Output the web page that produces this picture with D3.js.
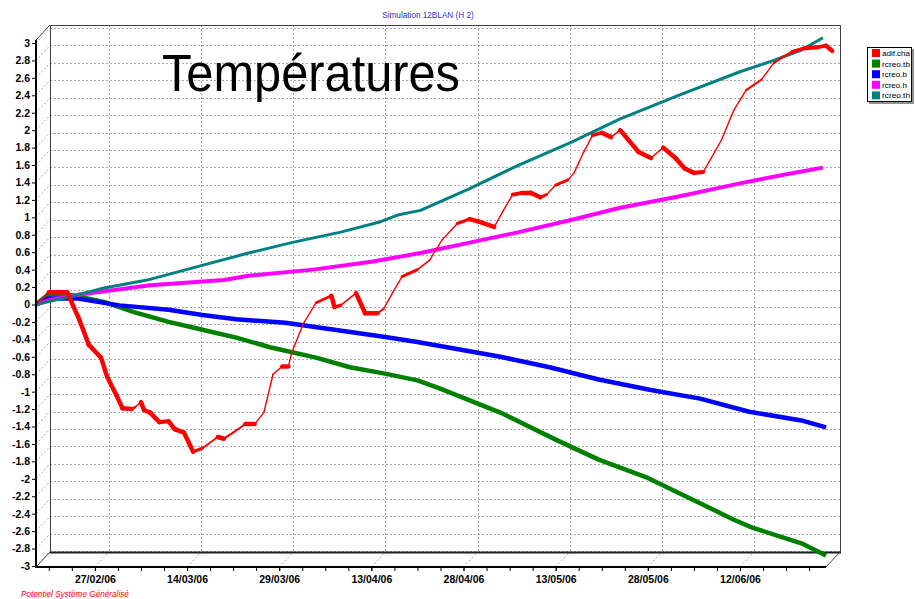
<!DOCTYPE html>
<html>
<head>
<meta charset="utf-8">
<script src="https://cdn.jsdelivr.net/npm/d3@7"></script>
<style>
  body { margin: 0; background: #fff; }
  svg { display: block; font-family: Arial, "Liberation Sans", sans-serif; }
</style>
</head>
<body>
<svg id="chart" width="915" height="599"></svg>
<script>
// DATA
const chartTitle = "Simulation 12BLAN (H 2)";
const bigLabel = "Températures";
const footer = "Potentiel Système Généralisé";

const seriesNames = ["adif.cha", "rcreo.tb", "rcreo.b", "rcreo.h", "rcreo.th"];
const seriesColors = ["#ff0000", "#008000", "#0000ff", "#ff00ff", "#008080"];

const dateTicks = ["2006-02-27", "2006-03-14", "2006-03-29", "2006-04-13",
                   "2006-04-28", "2006-05-13", "2006-05-28", "2006-06-12"];
const yTicks = [-3, -2.8, -2.6, -2.4, -2.2, -2, -1.8, -1.6, -1.4, -1.2, -1, -0.8, -0.6, -0.4, -0.2,
                0, 0.2, 0.4, 0.6, 0.8, 1, 1.2, 1.4, 1.6, 1.8, 2, 2.2, 2.4, 2.6, 2.8, 3];

// adif.cha (red)
const adifCha = [
  ["2006-02-17 10", 0], ["2006-02-19 12", 0.14], ["2006-02-22 12", 0.14], ["2006-02-24 12", -0.18],
  ["2006-02-26 00", -0.46], ["2006-02-28 00", -0.61], ["2006-03-01 00", -0.83], ["2006-03-02 12", -1.04],
  ["2006-03-03 12", -1.19], ["2006-03-05 00", -1.20], ["2006-03-05 12", -1.18], ["2006-03-06 12", -1.12],
  ["2006-03-07 00", -1.21], ["2006-03-08 00", -1.24], ["2006-03-09 12", -1.35], ["2006-03-11 00", -1.34],
  ["2006-03-12 00", -1.43], ["2006-03-13 12", -1.47], ["2006-03-15 00", -1.69], ["2006-03-16 12", -1.65],
  ["2006-03-19 00", -1.52], ["2006-03-20 00", -1.54], ["2006-03-21 12", -1.47], ["2006-03-23 12", -1.37],
  ["2006-03-25 00", -1.37], ["2006-03-26 12", -1.24], ["2006-03-28 00", -0.80], ["2006-03-29 12", -0.71],
  ["2006-03-30 12", -0.71], ["2006-03-31 00", -0.56], ["2006-04-02 00", -0.21], ["2006-04-04 00", 0.02],
  ["2006-04-06 12", 0.10], ["2006-04-07 00", -0.03], ["2006-04-08 00", -0.01], ["2006-04-10 12", 0.13],
  ["2006-04-12 00", -0.10], ["2006-04-14 00", -0.10], ["2006-04-15 00", -0.05], ["2006-04-16 12", 0.14],
  ["2006-04-18 00", 0.32], ["2006-04-20 12", 0.40], ["2006-04-22 12", 0.51], ["2006-04-24 12", 0.74],
  ["2006-04-27 00", 0.93], ["2006-04-29 00", 0.98], ["2006-04-30 12", 0.95], ["2006-05-03 00", 0.89],
  ["2006-05-04 12", 1.08], ["2006-05-06 00", 1.26], ["2006-05-07 12", 1.28], ["2006-05-09 00", 1.28],
  ["2006-05-10 12", 1.23], ["2006-05-11 12", 1.26], ["2006-05-13 00", 1.37], ["2006-05-15 00", 1.43],
  ["2006-05-16 00", 1.51], ["2006-05-17 12", 1.74], ["2006-05-19 00", 1.94], ["2006-05-20 12", 1.97],
  ["2006-05-22 00", 1.92], ["2006-05-23 12", 2.00], ["2006-05-26 12", 1.75], ["2006-05-28 12", 1.68],
  ["2006-05-30 12", 1.80], ["2006-06-01 12", 1.68], ["2006-06-03 00", 1.56], ["2006-06-04 12", 1.51],
  ["2006-06-06 00", 1.52], ["2006-06-07 00", 1.64], ["2006-06-09 00", 1.89], ["2006-06-11 00", 2.23],
  ["2006-06-13 00", 2.46], ["2006-06-15 12", 2.58], ["2006-06-17 12", 2.77], ["2006-06-19 00", 2.84],
  ["2006-06-20 12", 2.90], ["2006-06-22 12", 2.94], ["2006-06-24 12", 2.95], ["2006-06-26 00", 2.97],
  ["2006-06-27 00", 2.91]
];

// rcreo.tb (green)
const rcreoTb = [
  ["2006-02-17 10", 0], ["2006-02-19 12", 0.12], ["2006-02-23 00", 0.11], ["2006-02-28 12", 0.03],
  ["2006-03-05 12", -0.09], ["2006-03-11 00", -0.20], ["2006-03-16 12", -0.29], ["2006-03-22 00", -0.38],
  ["2006-03-27 12", -0.49], ["2006-04-04 00", -0.61], ["2006-04-09 12", -0.72], ["2006-04-15 00", -0.79],
  ["2006-04-20 12", -0.87], ["2006-04-24 00", -0.96], ["2006-05-04 00", -1.24], ["2006-05-13 00", -1.55],
  ["2006-05-20 00", -1.78], ["2006-05-28 00", -1.99], ["2006-06-05 12", -2.28], ["2006-06-11 00", -2.47],
  ["2006-06-14 00", -2.56], ["2006-06-22 00", -2.74], ["2006-06-26 00", -2.88]
];

// rcreo.b (blue)
const rcreoB = [
  ["2006-02-17 10", 0], ["2006-02-19 12", 0.07], ["2006-02-24 00", 0.07], ["2006-03-03 00", -0.01],
  ["2006-03-11 00", -0.06], ["2006-03-16 12", -0.12], ["2006-03-22 00", -0.17], ["2006-03-30 00", -0.21],
  ["2006-04-07 00", -0.29], ["2006-04-15 00", -0.37], ["2006-04-20 12", -0.43], ["2006-04-26 00", -0.50],
  ["2006-05-04 00", -0.60], ["2006-05-12 00", -0.72], ["2006-05-20 00", -0.86], ["2006-05-28 12", -0.98],
  ["2006-06-05 12", -1.08], ["2006-06-13 12", -1.23], ["2006-06-22 00", -1.33], ["2006-06-26 00", -1.41]
];

// rcreo.h (magenta)
const rcreoH = [
  ["2006-02-17 10", 0], ["2006-02-19 12", 0.05], ["2006-02-24 00", 0.11], ["2006-03-08 00", 0.22],
  ["2006-03-20 00", 0.28], ["2006-03-24 00", 0.33], ["2006-04-03 12", 0.40], ["2006-04-13 00", 0.49],
  ["2006-04-21 00", 0.59], ["2006-04-29 00", 0.71], ["2006-05-07 00", 0.83], ["2006-05-15 12", 0.97],
  ["2006-05-23 12", 1.11], ["2006-06-02 00", 1.24], ["2006-06-12 00", 1.39], ["2006-06-20 00", 1.50],
  ["2006-06-25 12", 1.57]
];

// rcreo.th (teal)
const rcreoTh = [
  ["2006-02-17 10", 0], ["2006-02-23 00", 0.09], ["2006-02-28 12", 0.19], ["2006-03-07 12", 0.28],
  ["2006-03-16 00", 0.44], ["2006-03-24 00", 0.59], ["2006-03-31 00", 0.71], ["2006-04-08 00", 0.83],
  ["2006-04-14 12", 0.95], ["2006-04-17 12", 1.03], ["2006-04-21 00", 1.08], ["2006-04-29 00", 1.33],
  ["2006-05-07 00", 1.60], ["2006-05-15 12", 1.86], ["2006-05-23 12", 2.13], ["2006-06-02 00", 2.40],
  ["2006-06-12 00", 2.67], ["2006-06-17 12", 2.80], ["2006-06-22 00", 2.92], ["2006-06-25 12", 3.06]
];

// LAYOUT
const parseHour = d3.timeParse("%Y-%m-%d %H");
const parseDay = d3.timeParse("%Y-%m-%d");
const parse = s => s.length > 10 ? parseHour(s) : parseDay(s);

const depth = {dx: 14, dy: -15};   // offset from front plane to back plane
const x = d3.scaleTime()
    .domain([parse("2006-02-17 10"), parse("2006-06-26")])
    .range([36, 826]);
const y = d3.scaleLinear().domain([-3, 3]).range([566, 43]);
const frontBottom = 567, frontTop = 40;
const backLeft = 36 + depth.dx, backRight = 826 + depth.dx;
const backTop = 25, backBottom = 552;

const svg = d3.select("#chart");
const grid = svg.append("g").attr("fill", "none").attr("stroke", "#a8a8a8")
    .attr("stroke-dasharray", "2,2").attr("stroke-width", 1);

// back wall horizontal grid
grid.selectAll(".hgrid").data(yTicks).enter().append("line")
    .attr("x1", backLeft).attr("x2", backRight)
    .attr("y1", d => Math.round(y(d) + depth.dy) + 0.5)
    .attr("y2", d => Math.round(y(d) + depth.dy) + 0.5);

// left wall diagonals
grid.selectAll(".lgrid").data(yTicks).enter().append("line")
    .attr("x1", 36).attr("y1", d => y(d))
    .attr("x2", backLeft).attr("y2", d => y(d) + depth.dy);

const majorDates = dateTicks.map(parse);

// back wall vertical grid + floor diagonals
grid.selectAll(".vgrid").data(majorDates).enter().append("line")
    .attr("x1", d => Math.round(x(d) + depth.dx) + 0.5)
    .attr("x2", d => Math.round(x(d) + depth.dx) + 0.5)
    .attr("y1", backTop).attr("y2", backBottom);
grid.selectAll(".fgrid").data(majorDates).enter().append("line")
    .attr("x1", d => x(d)).attr("y1", frontBottom)
    .attr("x2", d => x(d) + depth.dx).attr("y2", backBottom);

// frame of the 3D box
const frame = svg.append("g").attr("fill", "none").attr("stroke", "#404040").attr("stroke-width", 1);
frame.append("path").attr("d",
    `M${backLeft + 0.5},${backBottom} V${backTop + 0.5} H${backRight + 0.5} V${backBottom}`);
frame.append("line").attr("x1", backLeft).attr("x2", backRight + 1)
    .attr("y1", backBottom + 0.5).attr("y2", backBottom + 0.5).attr("stroke", "#202020").attr("stroke-width", 2);
frame.append("line").attr("x1", 36).attr("y1", frontTop).attr("x2", backLeft).attr("y2", backTop);
frame.append("line").attr("x1", 36).attr("y1", frontBottom).attr("x2", backLeft).attr("y2", backBottom);
frame.append("line").attr("x1", 826).attr("y1", frontBottom).attr("x2", backRight).attr("y2", backBottom);

// SERIES
const line = d3.line().x(d => x(parse(d[0]))).y(d => y(d[1]));
const others = [
  {data: rcreoTb, color: seriesColors[1], width: 4.5},
  {data: rcreoB, color: seriesColors[2], width: 4.5},
  {data: rcreoH, color: seriesColors[3], width: 4},
  {data: rcreoTh, color: seriesColors[4], width: 3}
];
svg.append("g").selectAll("path").data(others).enter().append("path")
    .attr("d", d => line(d.data))
    .attr("fill", "none")
    .attr("stroke", d => d.color)
    .attr("stroke-width", d => d.width)
    .attr("stroke-linejoin", "round");

// red line: thick where flat or falling, thin where rising fast
const widthBySlope = d3.scaleLinear().domain([0, 0.06]).range([4.5, 1.4]).clamp(true);
const redSegments = d3.pairs(adifCha);
svg.append("g").selectAll("path").data(redSegments).enter().append("path")
    .attr("d", d => line(d))
    .attr("fill", "none")
    .attr("stroke", seriesColors[0])
    .attr("stroke-linecap", "round")
    .attr("stroke-width", d => {
        const days = (parse(d[1][0]) - parse(d[0][0])) / 864e5;
        return widthBySlope((d[1][1] - d[0][1]) / days);
    });

// AXES
const yAxis = d3.axisLeft(y).tickValues(yTicks).tickSize(4).tickPadding(2)
    .tickFormat(d => String(d));
svg.append("g").attr("transform", "translate(36,0)").call(yAxis)
    .call(g => g.select(".domain").remove())
    .call(g => g.selectAll("text").attr("font-size", 10.5).attr("font-weight", "bold")
        .attr("font-family", "Arial, 'Liberation Sans', sans-serif").attr("fill", "#000"));

// minor ticks: four per 15-day interval
const minorDates = [];
[d3.timeDay.offset(majorDates[0], -15), ...majorDates].forEach(m => {
    for (let k = 0; k < 4; k++) minorDates.push(new Date(+m + k * 3.75 * 864e5));
});
const xDomain = x.domain();
const xMinor = d3.axisBottom(x)
    .tickValues(minorDates.filter(d => d > xDomain[0] && d < xDomain[1]))
    .tickSize(4).tickFormat("");
svg.append("g").attr("transform", `translate(0,${frontBottom})`).call(xMinor)
    .call(g => g.select(".domain").remove());

const xAxis = d3.axisBottom(x).tickValues(majorDates).tickSize(4).tickPadding(5)
    .tickFormat(d3.timeFormat("%d/%m/%y"));
svg.append("g").attr("transform", `translate(0,${frontBottom})`).call(xAxis)
    .call(g => g.select(".domain").remove())
    .call(g => g.selectAll("text").attr("font-size", 10.5).attr("font-weight", "bold")
        .attr("font-family", "Arial, 'Liberation Sans', sans-serif").attr("fill", "#000"));

// front axis lines
svg.append("line").attr("x1", 36).attr("x2", 36).attr("y1", frontTop).attr("y2", frontBottom + 1)
    .attr("stroke", "#000").attr("stroke-width", 2);
svg.append("line").attr("x1", 35).attr("x2", 826).attr("y1", frontBottom).attr("y2", frontBottom)
    .attr("stroke", "#000").attr("stroke-width", 2);

// TEXTS
svg.append("text").attr("x", 428).attr("y", 18).attr("text-anchor", "middle")
    .attr("font-size", 8.2).attr("fill", "#2b2be0").text(chartTitle);
svg.append("text").attr("x", 162).attr("y", 91).attr("font-size", 51)
    .attr("textLength", 298).attr("lengthAdjust", "spacingAndGlyphs")
    .attr("fill", "#000").text(bigLabel);
svg.append("text").attr("x", 21).attr("y", 597).attr("font-size", 8.2)
    .attr("font-style", "italic").attr("fill", "#ff0000").text(footer);

// LEGEND
const legend = svg.append("g").attr("transform", "translate(867,47)");
legend.append("rect").attr("x", 2).attr("y", 2).attr("width", 45).attr("height", 55).attr("fill", "#909090");
legend.append("rect").attr("x", 0.5).attr("y", 0.5).attr("width", 44).attr("height", 54)
    .attr("fill", "#fff").attr("stroke", "#000");
const item = legend.selectAll(".item").data(seriesNames).enter().append("g")
    .attr("transform", (d, i) => `translate(0,${6 + i * 10.6})`);
item.append("rect").attr("x", 5).attr("y", -4).attr("width", 8).attr("height", 8)
    .attr("fill", (d, i) => seriesColors[i]);
item.append("text").attr("x", 15).attr("y", 3).attr("font-size", 8)
    .attr("textLength", d => d.length > 7 ? 28 : 25).attr("lengthAdjust", "spacingAndGlyphs")
    .attr("fill", "#000").text(d => d);
</script>
</body>
</html>
